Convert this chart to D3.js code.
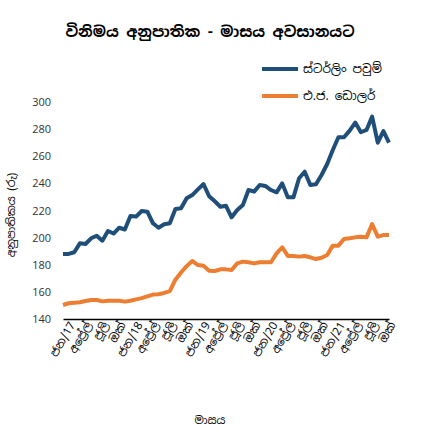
<!DOCTYPE html>
<html>
<head>
<meta charset="utf-8">
<script src="https://cdn.jsdelivr.net/npm/d3@7"></script>
<style>
  body { margin: 0; background: #fff; }
  svg text { font-family: "Noto Sans Sinhala", "Noto Sans", "DejaVu Sans", sans-serif; }
</style>
</head>
<body>
<svg id="chart" width="425" height="432"></svg>
<script>
// month-end rates, Jan 2017 .. Nov 2021
const months = d3.range(59);
const gbp = [188, 188, 189.2, 195.8, 195.3, 199.5, 201.4, 197.7, 204.9, 203, 207.3, 206,
  216, 215.5, 219.6, 219.1, 210.6, 207.3, 209.8, 210.6, 221.1, 221.6, 229, 231.4,
  235.6, 239.5, 230.5, 226.8, 222.8, 223.5, 215, 220.4, 224, 235.1, 233.9, 238.8,
  238.1, 235.1, 233.4, 240, 229.7, 229.7, 243.8, 248.6, 238.8, 239.3, 246.2, 254.3,
  264.6, 274, 274, 278.9, 284.8, 277.7, 279.4, 289.2, 270, 278.6, 270];
const usd = [150.3, 151.6, 152, 152.3, 153.3, 154, 154, 153, 153.5, 153.5, 153.5, 152.8,
  153.5, 154.5, 155.4, 156.7, 158, 158.3, 159.2, 160.5, 169, 174.3, 179, 182.8,
  179.8, 179.3, 175.6, 175.4, 176.6, 176.6, 176.1, 181, 182.3, 181.8, 181, 181.8,
  181.8, 181.8, 188.4, 192.9, 186.5, 186.5, 186, 186.5, 185.5, 184.2, 185.2, 187.2,
  194.1, 194.1, 199, 199.5, 200.2, 200.7, 200.2, 210, 200.7, 201.9, 201.9];
const monthNames = ["ජන", "අප්‍රේල්", "ජූලි", "ඔක්"];
const yTicks = [140, 160, 180, 200, 220, 240, 260, 280, 300];
const seriesNames = ["ස්ටර්ලිං පවුම්", "එ.ජ. ඩොලර්"];
const colors = ["#1f4e79", "#ed7d31"];

const svg = d3.select("#chart");
const margin = { left: 63, right: 36, top: 102, bottom: 113 };
const width = 425, height = 432;

const x = d3.scalePoint()
    .domain(months)
    .range([margin.left, width - margin.right]);

const y = d3.scaleLinear()
    .domain([140, 300])
    .range([height - margin.bottom, margin.top]);

// title
svg.append("text")
    .attr("x", 210)
    .attr("y", 37)
    .attr("text-anchor", "middle")
    .attr("font-size", "15px")
    .attr("font-weight", "bold")
    .attr("fill", "#000")
    .text("විනිමය අනුපාතික - මාසය අවසානයට");

// y axis (labels only)
const yAxis = svg.append("g")
    .attr("transform", `translate(${margin.left - 4},0)`)
    .call(d3.axisLeft(y).tickValues(yTicks).tickSize(0).tickPadding(8));
yAxis.select(".domain").remove();
yAxis.selectAll("text")
    .attr("font-size", "11px")
    .attr("fill", "#333")
    .style("font-family", "'Open Sans', sans-serif");

// x axis
const xAxis = svg.append("g")
    .attr("transform", `translate(0,${y(140)})`)
    .call(d3.axisBottom(x)
        .tickValues(months.filter(m => m % 3 === 0))
        .tickSize(0)
        .tickFormat(m => {
            const q = (m % 12) / 3;
            return q === 0 ? `${monthNames[0]}/${17 + m / 12}` : monthNames[q];
        }));
xAxis.select(".domain")
    .attr("stroke", "#000")
    .attr("stroke-width", 1.6);
xAxis.selectAll("text")
    .attr("font-size", "11.5px")
    .attr("fill", "#000")
    .attr("text-anchor", "end")
    .attr("dx", "0.1em")
    .attr("dy", "0.9em")
    .attr("transform", "rotate(-60)");

// lines
const line = d3.line()
    .x((d, i) => x(i))
    .y(d => y(d));

[gbp, usd].forEach((s, k) => {
    svg.append("path")
        .datum(s)
        .attr("fill", "none")
        .attr("stroke", colors[k])
        .attr("stroke-width", 4)
        .attr("stroke-linejoin", "round")
        .attr("d", line);
});

// legend
seriesNames.forEach((name, k) => {
    const ly = 69 + k * 27;
    svg.append("line")
        .attr("x1", 262).attr("x2", 298)
        .attr("y1", ly).attr("y2", ly)
        .attr("stroke", colors[k])
        .attr("stroke-width", 4);
    svg.append("text")
        .attr("x", 303)
        .attr("y", ly + 4)
        .attr("font-size", "12px")
        .attr("fill", "#000")
        .text(name);
});

// axis titles
svg.append("text")
    .attr("transform", `translate(15,${215}) rotate(-90)`)
    .attr("text-anchor", "middle")
    .attr("font-size", "11px")
    .attr("fill", "#000")
    .text("අනුපාතිකය (රු)");

svg.append("text")
    .attr("x", 210)
    .attr("y", 424)
    .attr("text-anchor", "middle")
    .attr("font-size", "11px")
    .attr("fill", "#000")
    .text("මාසය");
</script>
</body>
</html>
